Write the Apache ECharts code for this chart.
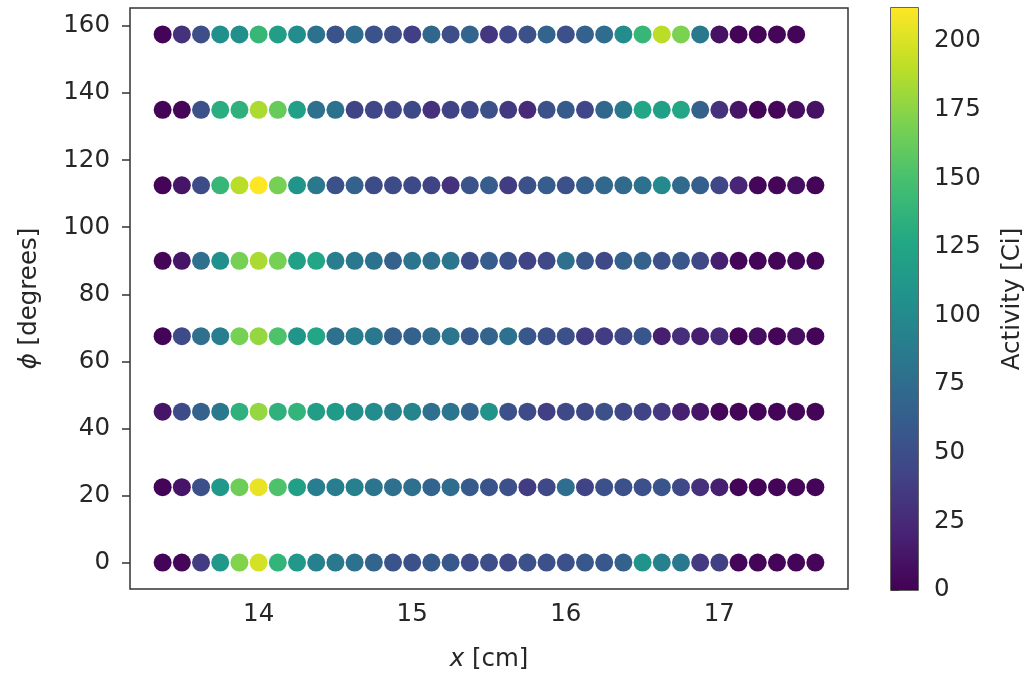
<!DOCTYPE html>
<html>
<head>
<meta charset="utf-8">
<script src="https://cdn.jsdelivr.net/npm/echarts@6/dist/echarts.min.js"></script>
<style>
  html, body { margin: 0; padding: 0; background: #fff; }
  #chart { width: 1028px; height: 677px; }
</style>
</head>
<body>
<div id="chart"></div>
<script>
// Source positions along the axis [cm]
const xPositions = [13.375, 13.5, 13.625, 13.75, 13.875, 14.0, 14.125, 14.25, 14.375, 14.5,
  14.625, 14.75, 14.875, 15.0, 15.125, 15.25, 15.375, 15.5, 15.625, 15.75,
  15.875, 16.0, 16.125, 16.25, 16.375, 16.5, 16.625, 16.75, 16.875, 17.0,
  17.125, 17.25, 17.375, 17.5, 17.625];

// Azimuthal rows [degrees]
const phiRows = [0, 22.5, 45, 67.5, 90, 112.5, 135, 157.5];

// Activity per position [Ci], one array per azimuthal row
const activityPhi0 = [2, 3, 38, 112, 172, 198, 138, 112, 92, 85, 80, 68, 55, 52, 60, 58, 48, 50,
  46, 52, 52, 52, 58, 58, 66, 108, 92, 85, 36, 40, 3, 2, 2, 2, 3];
const activityPhi22 = [2, 12, 52, 112, 165, 205, 152, 120, 90, 90, 92, 83, 78, 78, 68, 75, 60, 55,
  52, 38, 46, 76, 42, 52, 52, 52, 56, 46, 30, 18, 2, 2, 2, 3, 2];
const activityPhi45 = [12, 48, 66, 85, 135, 178, 135, 138, 118, 115, 105, 103, 92, 95, 78, 82, 68, 108,
  52, 48, 40, 46, 46, 52, 46, 42, 36, 18, 12, 3, 2, 2, 2, 3, 2];
const activityPhi67 = [2, 48, 78, 90, 168, 178, 152, 110, 125, 78, 90, 85, 66, 66, 75, 82, 60, 68,
  80, 58, 52, 52, 38, 38, 46, 56, 18, 28, 18, 25, 2, 8, 2, 8, 2];
const activityPhi90 = [2, 12, 78, 105, 168, 185, 168, 120, 125, 90, 85, 80, 66, 83, 78, 82, 48, 62,
  52, 42, 46, 78, 58, 46, 66, 66, 52, 58, 46, 18, 3, 2, 2, 3, 2];
const activityPhi112 = [2, 12, 48, 140, 190, 212, 168, 110, 85, 52, 66, 48, 48, 47, 42, 30, 55, 62,
  38, 52, 62, 52, 64, 72, 74, 80, 100, 74, 64, 45, 22, 3, 3, 8, 2];
const activityPhi135 = [2, 3, 52, 132, 135, 185, 162, 120, 78, 80, 42, 45, 45, 47, 30, 42, 45, 52,
  35, 25, 52, 60, 45, 70, 85, 125, 120, 125, 66, 30, 12, 2, 3, 8, 10];
const activityPhi157 = [2, 30, 50, 105, 105, 140, 118, 103, 80, 55, 75, 55, 50, 40, 70, 50, 68, 34,
  45, 52, 68, 52, 65, 75, 103, 140, 190, 170, 85, 10, 2, 2, 3, 2];

const activityRows = [activityPhi0, activityPhi22, activityPhi45, activityPhi67,
  activityPhi90, activityPhi112, activityPhi135, activityPhi157];

// Tick labels
const xTicks = [14, 15, 16, 17];
const yTicks = [0, 20, 40, 60, 80, 100, 120, 140, 160];
const cbarTicks = [0, 25, 50, 75, 100, 125, 150, 175, 200];

// Viridis colour stops
const viridis = ['#440154', '#482475', '#414487', '#355f8d', '#2a788e', '#21918c',
  '#22a884', '#44bf70', '#7ad151', '#bddf26', '#fde725'];

// Assemble scatter points [x, phi, activity]
const points = [];
activityRows.forEach((row, r) => {
  row.forEach((v, k) => points.push([xPositions[k], phiRows[r], v]));
});
const allValues = points.map(p => p[2]);
const vMin = 0;
const vMax = Math.max(...allValues);

// Axis extents with a 5% margin on each side of the data
const xLo = Math.min(...xPositions), xHi = Math.max(...xPositions);
const yLo = Math.min(...phiRows), yHi = Math.max(...phiRows);
const xPad = (xHi - xLo) * 0.05, yPad = (yHi - yLo) * 0.05;

const FONT = 'DejaVu Sans';
const TXT = '#262626';
const LINE = '#333';
const FS = 24.5;

const chart = echarts.init(document.getElementById('chart'), null, { renderer: 'canvas' });

chart.setOption({
  backgroundColor: '#fff',
  animation: false,
  textStyle: { fontFamily: FONT, color: TXT },
  grid: [
    { left: 130, top: 8, width: 718, height: 582, show: true,
      borderColor: LINE, borderWidth: 1.5, backgroundColor: 'transparent' },
    { left: 891, top: 8, width: 27, height: 582, show: true,
      borderColor: LINE, borderWidth: 1.5, backgroundColor: 'transparent' }
  ],
  xAxis: [
    {
      gridIndex: 0, type: 'value', min: xLo - xPad, max: xHi + xPad,
      name: '{i|x} [cm]', nameLocation: 'middle', nameGap: 58,
      nameTextStyle: { fontFamily: FONT, fontSize: FS, color: TXT,
        rich: { i: { fontFamily: FONT, fontStyle: 'italic', fontSize: FS, color: TXT } } },
      axisLine: { show: false },
      splitLine: { show: false },
      axisTick: { show: true, length: 8, customValues: xTicks, lineStyle: { color: LINE, width: 1.5 } },
      axisLabel: { customValues: xTicks, margin: 13, fontSize: FS, color: TXT, fontFamily: FONT }
    },
    {
      gridIndex: 1, type: 'value', min: 0, max: 1, show: false
    }
  ],
  yAxis: [
    {
      gridIndex: 0, type: 'value', min: yLo - yPad, max: yHi + yPad,
      name: '{i|ϕ} [degrees]', nameLocation: 'middle', nameGap: 88, nameRotate: 90,
      nameTextStyle: { fontFamily: FONT, fontSize: FS, color: TXT,
        rich: { i: { fontFamily: FONT, fontStyle: 'italic', fontSize: FS, color: TXT } } },
      axisLine: { show: false },
      splitLine: { show: false },
      axisTick: { show: true, length: 8, customValues: yTicks, lineStyle: { color: LINE, width: 1.5 } },
      axisLabel: { customValues: yTicks, margin: 20, fontSize: FS, color: TXT, fontFamily: FONT }
    },
    {
      gridIndex: 1, type: 'value', position: 'right', min: vMin, max: vMax,
      name: 'Activity [Ci]', nameLocation: 'middle', nameGap: 82, nameRotate: 90,
      nameTextStyle: { fontFamily: FONT, fontSize: FS, color: TXT },
      axisLine: { show: false },
      splitLine: { show: false },
      axisTick: { show: true, length: 8, customValues: cbarTicks, lineStyle: { color: LINE, width: 1.5 } },
      axisLabel: { customValues: cbarTicks, margin: 16, fontSize: FS, color: TXT, fontFamily: FONT }
    }
  ],
  visualMap: {
    type: 'continuous', show: false, seriesIndex: 0, dimension: 2,
    min: vMin, max: vMax, inRange: { color: viridis }
  },
  series: [
    {
      type: 'scatter', xAxisIndex: 0, yAxisIndex: 0,
      symbol: 'circle', symbolSize: 18,
      data: points,
      itemStyle: { opacity: 1 }
    },
    {
      // Colour bar: a gradient rectangle spanning the activity range
      type: 'custom', xAxisIndex: 1, yAxisIndex: 1,
      data: [[0, vMin, 1, vMax]],
      silent: true,
      renderItem: function (params, api) {
        const p0 = api.coord([api.value(0), api.value(1)]);
        const p1 = api.coord([api.value(2), api.value(3)]);
        const stops = viridis.map((c, i) => ({ offset: i / (viridis.length - 1), color: c }));
        return {
          type: 'rect',
          shape: { x: p0[0], y: p1[1], width: p1[0] - p0[0], height: p0[1] - p1[1] },
          style: { fill: new echarts.graphic.LinearGradient(0, 1, 0, 0, stops) },
          z2: 0
        };
      }
    }
  ]
});
</script>
</body>
</html>
